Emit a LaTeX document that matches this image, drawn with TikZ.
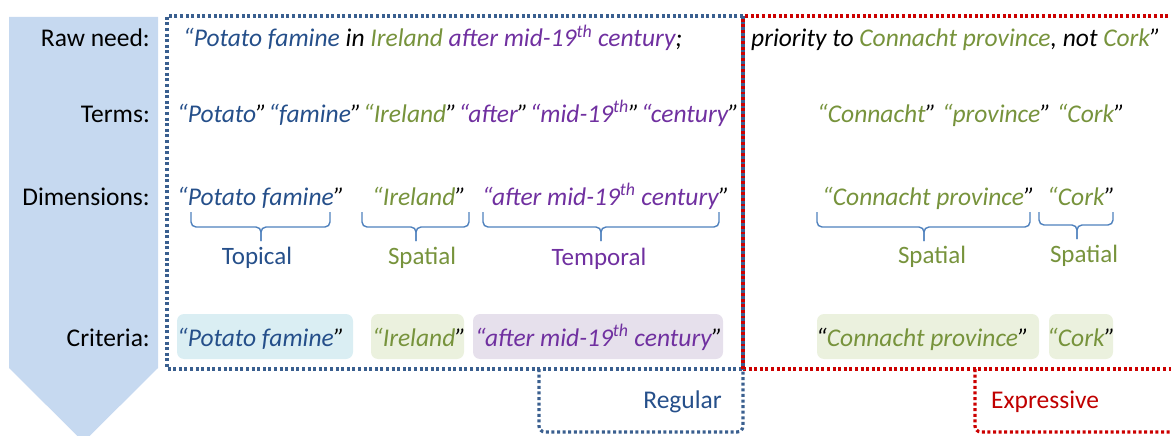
\documentclass[tikz,border=0pt]{standalone}
\usepackage{fontspec}
\setmainfont{Carlito}
\definecolor{tblue}{HTML}{254F8A}
\definecolor{tgreen}{HTML}{77933C}
\definecolor{tpurple}{HTML}{7030A0}
\definecolor{tred}{HTML}{C00000}
\definecolor{dotblue}{HTML}{3A5F8F}
\definecolor{dotred}{HTML}{CC0000}
\definecolor{arrowfill}{HTML}{C6D9F0}
\definecolor{brk}{HTML}{4F81BD}
\definecolor{fblue}{HTML}{DAEEF3}
\definecolor{fgreen}{HTML}{EBF1DE}
\definecolor{fpurple}{HTML}{E6E0EC}
\newcommand{\cq}{\textcolor{black}{”}}
\newcommand{\thsup}{\textsuperscript{th}}
\newcommand{\tsp}{\hspace{1.5pt}}
\tikzset{
  rowlbl/.style={anchor=base east, inner sep=0pt, font=\fontsize{25.5}{30}\selectfont},
  itx/.style={anchor=base west, inner sep=0pt, font=\fontsize{25.5}{30}\selectfont\itshape},
  dimlbl/.style={anchor=base, inner sep=0pt, font=\fontsize{25}{30}\selectfont},
  tablbl/.style={anchor=base east, inner sep=0pt, font=\fontsize{25.5}{30}\selectfont},
  bluedots/.style={draw=dotblue, line width=3.2pt, dash pattern=on 3pt off 2.6pt},
  reddots/.style={draw=dotred, line width=3.2pt, dash pattern=on 3pt off 2.6pt},
  sharedblue/.style={draw=dotblue, line width=3.2pt, dash pattern=on 2.8pt off 2.8pt},
  sharedred/.style={draw=dotred, line width=3.2pt, dash pattern=on 2.8pt off 2.8pt, dash phase=2.8pt},
  bracketline/.style={draw=brk, line width=1.4pt, rounded corners=5pt},
  critbox/.style={rounded corners=7pt, draw=none},
}
\begin{document}
\begin{tikzpicture}[x=1pt, y=-1pt]
\useasboundingbox (0,0) rectangle (1171,436);
\clip (0,0) rectangle (1171,436);
% big arrow
\fill[arrowfill] (9,17) -- (158,17) -- (158,368) -- (83.5,442) -- (9,368) -- cycle;
% row labels
\node[rowlbl] (lraw) at (150,47) {Raw need:};
\node[rowlbl] (lterms) at (150,122) {Terms:};
\node[rowlbl] (ldims) at (150,205) {Dimensions:};
\node[rowlbl] (lcrit) at (150,346) {Criteria:};
% frames
\coordinate (ftop) at (743,16);
\coordinate (fbot) at (743,369);
\draw[bluedots] (ftop) -- (167,16) -- (167,369) -- (fbot);
\draw[bluedots, rounded corners=6pt] (539,369) -- (539,432) -- (743,432) -- (fbot);
\draw[reddots] (1185,16) -- (ftop);
\draw[reddots] (fbot) -- (1185,369);
\draw[sharedblue] (ftop) -- (fbot);
\draw[sharedred] (ftop) -- (fbot);
\draw[reddots, rounded corners=6pt] (975,369) -- (975,432) -- (1185,432);
\node[tablbl, text=tblue] (regular) at (722,408) {Regular};
\node[anchor=base west, inner sep=0pt, font=\fontsize{25.5}{30}\selectfont, text=tred] (expressive) at (991,408) {Expressive};
% raw need
\node[itx] (raw1) at (183,47) {\textcolor{tblue}{“Potato famine} in \textcolor{tgreen}{Ireland} \textcolor{tpurple}{after mid-19\thsup{} century};};
\node[itx] (raw2) at (751,47) {priority to \textcolor{tgreen}{Connacht province}, not \textcolor{tgreen}{Cork}”};
% terms
\node[itx] (terms1) at (177,122) {\textcolor{tblue}{“Potato\cq}\tsp\textcolor{tblue}{“famine\cq}\tsp\textcolor{tgreen}{“Ireland\cq}\tsp\textcolor{tpurple}{“after\cq}\tsp\textcolor{tpurple}{“mid-19\thsup\cq}\tsp\textcolor{tpurple}{“century\cq}};
\node[itx] (terms2) at (817,122) {\textcolor{tgreen}{“Connacht\cq} \textcolor{tgreen}{“province\cq} \textcolor{tgreen}{“Cork\cq}};
% dimensions
\node[itx, text=tblue] (d1) at (177,205) {“Potato famine\cq};
\node[itx, text=tgreen] (d2) at (372,205) {“Ireland\cq};
\node[itx, text=tpurple] (d3) at (482,205) {“after mid-19\thsup{} century\cq};
\node[itx, text=tgreen] (d4) at (822,205) {“Connacht province\cq};
\node[itx, text=tgreen] (d5) at (1047,205) {“Cork\cq};
% brackets
\foreach \xa/\xm/\xb/\yh/\yt in {191/261/330/227/241, 362/416/469/227/241, 483/601/719/227/241, 817/924/1030/227/241, 1039/1077/1113/225/239}{
  \draw[bracketline] (\xa,212) -- (\xa,\yh) -- (\xm,\yh) -- (\xm,\yt);
  \draw[bracketline] (\xb,212) -- (\xb,\yh) -- (\xm,\yh) -- (\xm,\yt);
}
\node[dimlbl, text=tblue] (topical) at (257,264) {Topical};
\node[dimlbl, text=tgreen] (spatial1) at (422,264) {Spatial};
\node[dimlbl, text=tpurple] (temporal) at (599,265) {Temporal};
\node[dimlbl, text=tgreen] (spatial2) at (932,263) {Spatial};
\node[dimlbl, text=tgreen] (spatial3) at (1084,262) {Spatial};
% criteria boxes
\fill[critbox, fblue] (177,314) rectangle (353,359);
\fill[critbox, fgreen] (371,314) rectangle (464,359);
\fill[critbox, fpurple] (473,314) rectangle (723,359);
\fill[critbox, fgreen] (817,314) rectangle (1039,359);
\fill[critbox, fgreen] (1049,314) rectangle (1113,359);
\node[itx, text=tblue] (c1) at (177,346) {“Potato famine\cq};
\node[itx, text=tgreen] (c2) at (372,346) {“Ireland\cq};
\node[itx, text=tpurple] (c3) at (475,346) {“after mid-19\thsup{} century\cq};
\node[itx, text=tgreen] (c4) at (816,346) {\textcolor{black}{“}Connacht province\cq};
\node[itx, text=tgreen] (c5) at (1047,346) {“Cork\cq};
\end{tikzpicture}
\end{document}
